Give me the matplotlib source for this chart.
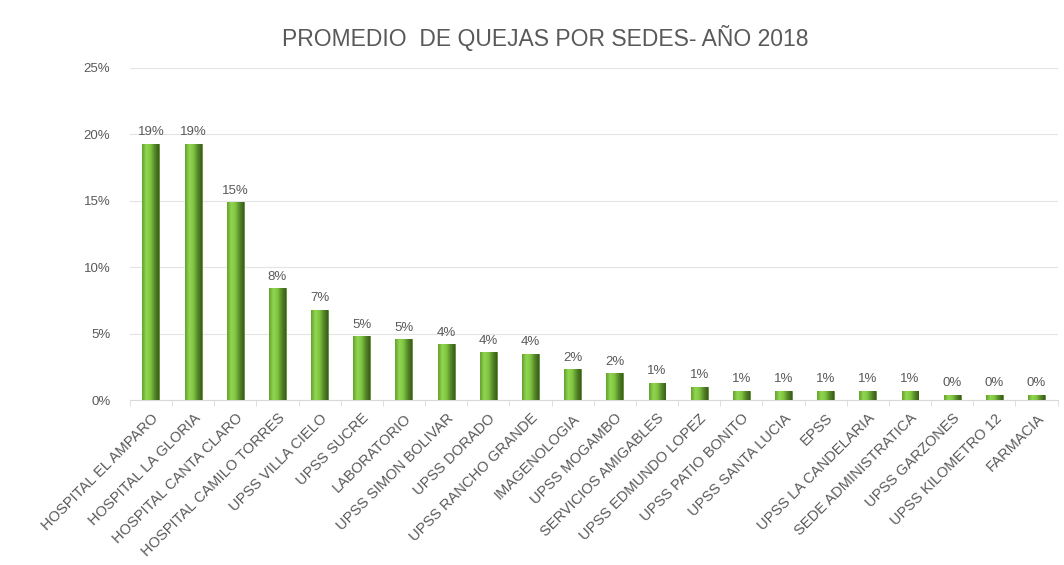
import numpy as np
import matplotlib.pyplot as plt
from matplotlib.colors import LinearSegmentedColormap

plt.rcParams['font.family'] = ['Liberation Sans', 'DejaVu Sans']

sedes = ['HOSPITAL EL AMPARO', 'HOSPITAL LA GLORIA', 'HOSPITAL CANTA CLARO',
         'HOSPITAL CAMILO TORRES', 'UPSS VILLA CIELO', 'UPSS SUCRE', 'LABORATORIO',
         'UPSS SIMON BOLIVAR', 'UPSS DORADO', 'UPSS RANCHO GRANDE', 'IMAGENOLOGIA',
         'UPSS MOGAMBO', 'SERVICIOS AMIGABLES', 'UPSS EDMUNDO LOPEZ',
         'UPSS PATIO BONITO', 'UPSS SANTA LUCIA', 'EPSS', 'UPSS LA CANDELARIA',
         'SEDE ADMINISTRATICA', 'UPSS GARZONES', 'UPSS KILOMETRO 12', 'FARMACIA']
promedio = [19.3, 19.3, 14.9, 8.4, 6.8, 4.8, 4.6, 4.2, 3.6, 3.5, 2.3,
            2.0, 1.3, 1.0, 0.7, 0.7, 0.7, 0.7, 0.7, 0.4, 0.4, 0.4]
etiquetas = ['19%', '19%', '15%', '8%', '7%', '5%', '5%', '4%', '4%', '4%', '2%',
             '2%', '1%', '1%', '1%', '1%', '1%', '1%', '1%', '0%', '0%', '0%']

vals = np.array(promedio) / 100
x = np.arange(len(sedes))

fig = plt.figure(figsize=(10.64, 5.65), dpi=100)
ax = fig.add_axes([0.122, 0.292, 0.872, 0.588])

# bar shading: lighter green in the middle, dark on the right edge
grad = LinearSegmentedColormap.from_list('g', ['#64a22c', '#92d552', '#80c640', '#55882a', '#3a5e18'])
bars = ax.bar(x, vals, width=0.4, color='#76b83a', edgecolor='#4a7320', linewidth=0.5, zorder=2)
for b in bars:
    bx, by = b.get_x(), b.get_y()
    w, h = b.get_width(), b.get_height()
    im = ax.imshow(np.linspace(0, 1, 64).reshape(1, -1), cmap=grad, aspect='auto',
                   extent=[bx, bx + w, by, by + h], zorder=3)
    im.set_clip_path(b)

for xi, v, t in zip(x, vals, etiquetas):
    ax.text(xi, v + 0.004, t, ha='center', va='bottom', fontsize=9.5, color='#595959')

ax.set_xlim(-0.5, len(sedes) - 0.5)
ax.set_ylim(0, 0.25)
ax.set_yticks(np.arange(0, 0.26, 0.05))
ax.set_yticklabels(['%d%%' % v for v in range(0, 26, 5)], fontsize=9.5, color='#595959')
ax.grid(axis='y', color='#e3e3e3', linewidth=0.8, zorder=0)
ax.set_axisbelow(True)
ax.tick_params(axis='y', length=0, pad=14)

ax.set_xticks(x)
ax.set_xticklabels(sedes, rotation=45, ha='right', rotation_mode='anchor', fontsize=10.5, color='#595959')
ax.set_xticks(np.arange(-0.5, len(sedes), 1), minor=True)
ax.tick_params(axis='x', which='major', length=0, pad=8)
ax.tick_params(axis='x', which='minor', length=4, color='#d9d9d9')

for s in ['top', 'right', 'left']:
    ax.spines[s].set_visible(False)
ax.spines['bottom'].set_color('#d9d9d9')

fig.text(0.512, 0.932, 'PROMEDIO  DE QUEJAS POR SEDES- AÑO 2018', ha='center', va='center',
         fontsize=16.5, color='#595959')

fig.savefig('out.png', dpi=100)
